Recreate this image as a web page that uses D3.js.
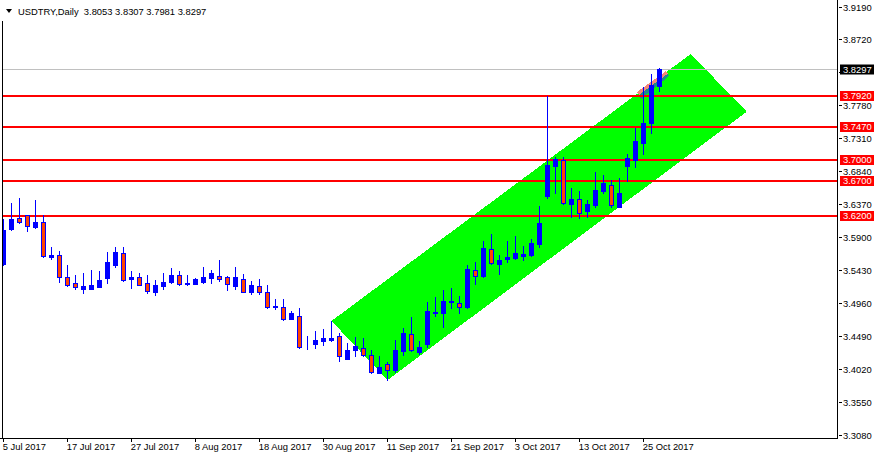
<!DOCTYPE html>
<html><head><meta charset="utf-8">
<script src="https://cdn.jsdelivr.net/npm/d3@7"></script>
<style>html,body{margin:0;padding:0;background:#fff;} svg{display:block;} text{font-family:"Liberation Sans",Arial,sans-serif;}</style>
</head><body>
<svg id="c" width="878" height="459"></svg>
<script>
// ---- data ----
const symbolTitle = "USDTRY,Daily";
const dates = [
"2017-07-05","2017-07-06","2017-07-07","2017-07-10","2017-07-11","2017-07-12","2017-07-13","2017-07-14","2017-07-17","2017-07-18",
"2017-07-19","2017-07-20","2017-07-21","2017-07-24","2017-07-25","2017-07-26","2017-07-27","2017-07-28","2017-07-31","2017-08-01",
"2017-08-02","2017-08-03","2017-08-04","2017-08-07","2017-08-08","2017-08-09","2017-08-10","2017-08-11","2017-08-14","2017-08-15",
"2017-08-16","2017-08-17","2017-08-18","2017-08-21","2017-08-22","2017-08-23","2017-08-24","2017-08-25","2017-08-28","2017-08-29",
"2017-08-30","2017-08-31","2017-09-01","2017-09-04","2017-09-05","2017-09-06","2017-09-07","2017-09-08","2017-09-11","2017-09-12",
"2017-09-13","2017-09-14","2017-09-15","2017-09-18","2017-09-19","2017-09-20","2017-09-21","2017-09-22","2017-09-25","2017-09-26",
"2017-09-27","2017-09-28","2017-09-29","2017-10-02","2017-10-03","2017-10-04","2017-10-05","2017-10-06","2017-10-09","2017-10-10",
"2017-10-11","2017-10-12","2017-10-13","2017-10-16","2017-10-17","2017-10-18","2017-10-19","2017-10-20","2017-10-23","2017-10-24",
"2017-10-25","2017-10-26","2017-10-27"];
const open = [
3.5518,3.6017,3.6170,3.6213,3.6050,3.6113,3.5625,3.5642,3.5329,3.5243,
3.5166,3.5158,3.5195,3.5323,3.5504,3.5675,3.5300,3.5329,3.5243,3.5123,
3.5209,3.5262,3.5361,3.5237,3.5229,3.5266,3.5323,3.5343,3.5329,3.5209,
3.5300,3.5123,3.5200,3.5115,3.4905,3.4901,3.4730,3.4773,3.4385,3.4373,
3.4425,3.4439,3.4487,3.4168,3.4292,3.4316,3.4216,3.3960,3.4088,3.4007,
3.4282,3.4516,3.4268,3.4373,3.4824,3.4824,3.4981,3.4958,3.4901,3.5433,
3.5347,3.5728,3.5523,3.5590,3.5608,3.5632,3.5651,3.5808,3.6488,3.6920,
3.7001,3.6370,3.6441,3.6278,3.6360,3.6564,3.6641,3.6335,3.6920,3.7001,
3.7248,3.7525,3.8053];
const high = [
3.6160,3.6384,3.6455,3.6217,3.6431,3.6217,3.5765,3.5704,3.5504,3.5361,
3.5386,3.5433,3.5419,3.5689,3.5761,3.5761,3.5423,3.5386,3.5361,3.5286,
3.5390,3.5461,3.5414,3.5361,3.5323,3.5471,3.5433,3.5575,3.5347,3.5476,
3.5376,3.5272,3.5300,3.5215,3.5015,3.5015,3.4848,3.4887,3.4487,3.4563,
3.4592,3.4706,3.4530,3.4388,3.4477,3.4459,3.4288,3.4206,3.4125,3.4430,
3.4606,3.4758,3.4420,3.4972,3.5044,3.5148,3.5176,3.5062,3.5504,3.5551,
3.5846,3.5946,3.5642,3.5846,3.5918,3.5775,3.5871,3.6345,3.7914,3.7040,
3.7040,3.6598,3.6555,3.6427,3.6826,3.6783,3.6716,3.6745,3.7087,3.7462,
3.8046,3.8227,3.8307];
const low = [
3.5504,3.6010,3.6107,3.5993,3.6036,3.5622,3.5585,3.5266,3.5205,3.5166,
3.5109,3.5155,3.5190,3.5243,3.5480,3.5280,3.5180,3.5219,3.5109,3.5076,
3.5166,3.5252,3.5223,3.5219,3.5226,3.5252,3.5252,3.5280,3.5152,3.5166,
3.5119,3.5091,3.5091,3.4891,3.4877,3.4724,3.4727,3.4316,3.4306,3.4325,
3.4363,3.4425,3.4139,3.4164,3.4211,3.4202,3.3968,3.3957,3.3864,3.3974,
3.4221,3.4282,3.4235,3.4339,3.4777,3.4624,3.4887,3.4815,3.4895,3.5229,
3.5337,3.5523,3.5380,3.5551,3.5594,3.5580,3.5637,3.5765,3.6464,3.6535,
3.6370,3.6193,3.6170,3.6184,3.6335,3.6531,3.6327,3.6331,3.6706,3.6906,
3.7087,3.7382,3.7981];
const close = [
3.6003,3.6156,3.6121,3.6060,3.6113,3.5637,3.5640,3.5329,3.5215,3.5195,
3.5205,3.5215,3.5290,3.5547,3.5689,3.5290,3.5329,3.5223,3.5140,3.5215,
3.5262,3.5361,3.5229,3.5252,3.5304,3.5333,3.5390,3.5300,3.5229,3.5329,
3.5123,3.5215,3.5123,3.4909,3.4919,3.4730,3.4815,3.4339,3.4396,3.4435,
3.4463,3.4463,3.4211,3.4288,3.4349,3.4225,3.3974,3.4045,3.4011,3.4288,
3.4530,3.4288,3.4331,3.4844,3.4834,3.4988,3.4991,3.4909,3.5443,3.5352,
3.5746,3.5528,3.5575,3.5618,3.5675,3.5661,3.5818,3.6103,3.6930,3.7011,
3.6384,3.6445,3.6241,3.6374,3.6574,3.6669,3.6355,3.6526,3.7026,3.7272,
3.7529,3.8066,3.8297];
const levels = [3.7920, 3.7470, 3.7000, 3.6700, 3.6200];
const yTicks = [3.9190,3.8720,3.8250,3.7780,3.7310,3.6840,3.6370,3.5900,3.5430,3.4960,3.4490,3.4020,3.3550,3.3080];
const xTickDates = ["2017-07-05","2017-07-17","2017-07-27","2017-08-08","2017-08-18","2017-08-30","2017-09-11","2017-09-21","2017-10-03","2017-10-13","2017-10-25"];
// channel (bar index, price) corners
const channelIdx   = [41, 85.9, 92.9, 48];
const channelPrice = [3.4706, 3.8513, 3.7690, 3.3864];
// small shaded object near the last bars
const objSalmonIdx   = [79.19, 82.81, 83.06, 79.44];
const objSalmonPrice = [3.7971, 3.8270, 3.8235, 3.7928];
const objTealIdx     = [79.44, 83.06, 83.19, 79.69];
const objTealPrice   = [3.7928, 3.8235, 3.8199, 3.7871];

// ---- drawing ----
const W = 878, H = 459;
const plotL = 2, plotR = 837, plotB = 438;
const svg = d3.select("#c");
const x = d3.scaleLinear().domain([0, 1]).range([3.5, 11.5]);
const y = d3.scaleLinear().domain([3.3080, 3.9190]).range([435, 6.5]);
const py = v => Math.round(y(v));
const n = dates.length;
const bars = d3.range(n).map(i => ({i, o: open[i], h: high[i], l: low[i], c: close[i]}));

svg.append("rect").attr("width", W).attr("height", H).attr("fill", "#fff");

const plot = svg.append("g");
svg.append("clipPath").attr("id", "pc").append("rect")
  .attr("x", plotL + 1).attr("y", 0).attr("width", plotR - plotL - 1).attr("height", plotB);
plot.attr("clip-path", "url(#pc)");

// channel
const poly = (xi, pr) => xi.map((v, k) => [x(v), y(pr[k])].join(",")).join(" ");
plot.append("polygon").attr("points", poly(channelIdx, channelPrice))
  .attr("fill", "#00FF00").attr("shape-rendering", "crispEdges");
plot.append("polygon").attr("points", poly(objSalmonIdx, objSalmonPrice))
  .attr("fill", "#F4877A").attr("shape-rendering", "crispEdges");
plot.append("polygon").attr("points", poly(objTealIdx, objTealPrice))
  .attr("fill", "#1E8A8A").attr("shape-rendering", "crispEdges");

// close price line
plot.append("line").attr("x1", plotL).attr("x2", plotR)
  .attr("y1", py(close[n - 1]) + 0.5).attr("y2", py(close[n - 1]) + 0.5)
  .attr("stroke", "#C0C0C0").attr("stroke-width", 1);

// horizontal levels
plot.selectAll(".lvl").data(levels).join("line").attr("class", "lvl")
  .attr("x1", plotL).attr("x2", plotR)
  .attr("y1", d => py(d)).attr("y2", d => py(d))
  .attr("stroke", "#FF0000").attr("stroke-width", 2).attr("shape-rendering", "crispEdges");

// candles
const cg = plot.append("g");
cg.selectAll(".wick").data(bars).join("line").attr("class", "wick")
  .attr("x1", d => Math.floor(x(d.i)) + 0.5).attr("x2", d => Math.floor(x(d.i)) + 0.5)
  .attr("y1", d => py(d.h)).attr("y2", d => py(d.l) + 1)
  .attr("stroke", "#0000FF").attr("stroke-width", 1);
cg.selectAll(".body").data(bars).join("rect").attr("class", "body")
  .attr("x", d => Math.floor(x(d.i)) - 2 + 0.5)
  .attr("y", d => py(Math.max(d.o, d.c)) + 0.5)
  .attr("width", 4)
  .attr("height", d => Math.max(0, py(Math.min(d.o, d.c)) - py(Math.max(d.o, d.c))))
  .attr("fill", d => d.c >= d.o ? "#0000FF" : "#FF4500")
  .attr("stroke", "#0000FF").attr("stroke-width", 1);

// frame
svg.append("line").attr("x1", plotL + 0.5).attr("x2", plotL + 0.5).attr("y1", 21).attr("y2", plotB + 1)
  .attr("stroke", "#000").attr("stroke-width", 1);
svg.append("line").attr("x1", plotR + 0.5).attr("x2", plotR + 0.5).attr("y1", 0).attr("y2", plotB + 1)
  .attr("stroke", "#000").attr("stroke-width", 1);
svg.append("line").attr("x1", 0).attr("x2", plotR + 1).attr("y1", plotB + 0.5).attr("y2", plotB + 0.5)
  .attr("stroke", "#000").attr("stroke-width", 1);

// right axis
const fs = 9.4;
const fmt = d3.format(".4f");
const ya = svg.append("g");
const lastClose = close[n - 1];
yTicks.forEach(t => {
  const yy = py(t) + 0.5;
  ya.append("line").attr("x1", plotR + 2).attr("x2", plotR + 5).attr("y1", yy).attr("y2", yy).attr("stroke", "#000");
  // a tick label hidden under the current-price box is not drawn (as in the terminal)
  if (Math.abs(py(t) - py(lastClose)) > 6)
    ya.append("text").attr("x", 843).attr("y", yy + 3.4).attr("font-size", fs).attr("fill", "#000").text(fmt(t));
});
// level labels
levels.forEach(l => {
  const yy = py(l);
  ya.append("rect").attr("x", 840).attr("y", yy - 5).attr("width", 34).attr("height", 10).attr("fill", "#FF0000");
  ya.append("text").attr("x", 843).attr("y", yy + 3.4).attr("font-size", fs).attr("fill", "#fff").text(fmt(l));
});
{
  const yy = py(lastClose);
  ya.append("rect").attr("x", 840).attr("y", yy - 4.5).attr("width", 34).attr("height", 10).attr("fill", "#000");
  ya.append("text").attr("x", 843).attr("y", yy + 3.9).attr("font-size", fs).attr("fill", "#fff").text(fmt(lastClose));
}

// bottom axis
const parse = d3.timeParse("%Y-%m-%d");
const dfmt = d3.timeFormat("%-d %b %Y");
const xa = svg.append("g");
xTickDates.forEach(ds => {
  const i = dates.indexOf(ds);
  const xx = Math.floor(x(i)) + 0.5;
  xa.append("line").attr("x1", xx).attr("x2", xx).attr("y1", plotB + 1).attr("y2", plotB + 4).attr("stroke", "#000");
  xa.append("text").attr("x", xx - 0.8).attr("y", 450).attr("font-size", fs).attr("fill", "#000").text(dfmt(parse(ds)));
});

// header
svg.append("path").attr("d", "M6,9 L12,9 L9,13 Z").attr("fill", "#000");
svg.append("text").attr("x", 18).attr("y", 14.5).attr("font-size", fs).attr("fill", "#000")
  .attr("xml:space", "preserve").style("white-space", "pre")
  .text(symbolTitle + "  " + [open[n-1], high[n-1], low[n-1], close[n-1]].map(fmt).join(" "));
</script>
</body></html>
